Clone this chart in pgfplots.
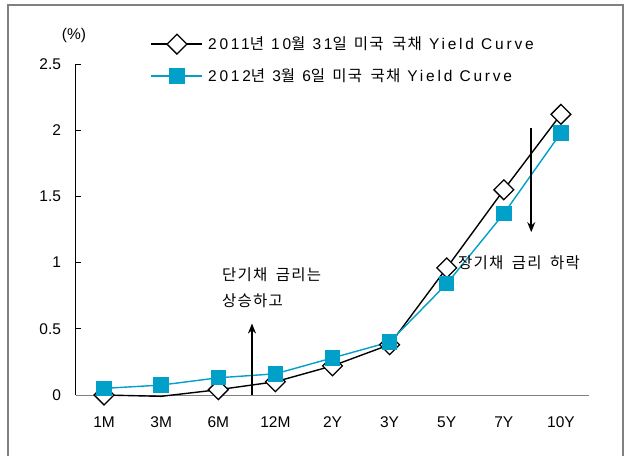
\documentclass[border=0pt]{standalone}
\usepackage{fontspec}
\setmainfont{Liberation Sans}
\newfontfamily\kr[WordSpace=1.8,LetterSpace=8]{Noto Sans CJK KR}
\newfontfamily\leg[LetterSpace=18]{Liberation Sans}
\usepackage{pgfplots}
\pgfplotsset{compat=1.18}
\usetikzlibrary{arrows.meta}
\definecolor{cblue}{RGB}{0,160,200}
\definecolor{fgray}{RGB}{128,128,128}
\pgfplotstableread{
x y
0 0.00
1 -0.01
2 0.04
3 0.10
4 0.22
5 0.38
6 0.96
7 1.55
8 2.12
}\oct
\pgfplotstableread{
x y
0 0.05
1 0.075
2 0.13
3 0.16
4 0.28
5 0.40
6 0.84
7 1.37
8 1.98
}\mar
\newcommand{\fs}{\fontsize{15.5bp}{18bp}\selectfont}
\newcommand{\fk}{\kr\fontsize{15.5bp}{18bp}\selectfont}
\begin{document}
\begin{tikzpicture}
\useasboundingbox (0bp,0bp) rectangle (626bp,456bp);
\begin{scope}
\clip (0bp,0bp) rectangle (626bp,456bp);
\draw[fgray, line width=2.2bp] (8bp,-20bp) rectangle (623bp,451bp);
\end{scope}
\begin{axis}[
  at={(75.5bp,61bp)}, anchor=south west,
  scale only axis, width=514bp, height=331bp,
  xmin=-0.5, xmax=8.5, ymin=0, ymax=2.5,
  clip=false,
  axis x line*=bottom, axis y line*=left,
  x axis line style={draw=fgray, line width=1bp},
  y axis line style={draw=black, line width=0.8bp},
  xtick={0,...,8},
  xticklabels={1M,3M,6M,12M,2Y,3Y,5Y,7Y,10Y},
  xtick style={draw=none},
  ytick={0,0.5,1,1.5,2,2.5},
  ytick style={draw=black, line width=0.8bp},
  tick align=inside, major tick length=5bp,
  /pgf/number format/assume math mode=true,
  ticklabel style={font=\fs},
  yticklabel style={xshift=-11bp},
  xticklabel style={yshift=-18bp},
  legend style={draw=none, fill=none, inner sep=0pt,
    at={(axis description cs:0.146,1.0157)}, anchor=west,
    font=\leg\fontsize{15.5bp}{18bp}\selectfont,
    row sep=15bp, column sep=5bp,
    nodes={inner sep=0pt, anchor=west}},
  legend cell align=left,
  legend image code/.code={\draw[#1, mark=none] (0bp,0bp) -- (51bp,0bp); \draw[#1, mark indices={1}] plot coordinates {(25.5bp,0bp)};},
]
\addplot[black, line width=1.4bp, mark=square*, mark options={rotate=45, fill=white, line width=1.3bp}, mark size=7bp,
  mark indices={1,3,4,5,6,7,8,9}] table[x=x,y=y] {\oct};
\addlegendentry{2011{\fk 년} 10{\fk 월} 31{\fk 일} {\fk 미국 국채} Yield Curve}
\addplot[cblue, line width=1.4bp, mark=square*, mark options={fill=cblue, draw=cblue}, mark size=7bp] table[x=x,y=y] {\mar};
\addlegendentry{2012{\fk 년} 3{\fk 월} 6{\fk 일} {\fk 미국 국채} Yield Curve}
\draw[line width=1.5bp, -{Stealth[length=10bp,width=8bp]}] (axis cs:2.59,0) -- (axis cs:2.59,0.54);
\draw[line width=1.5bp, -{Stealth[length=10bp,width=8bp]}] (axis cs:7.48,2.02) -- (axis cs:7.48,1.23);
\node[anchor=west, inner sep=0pt, font=\fk] at (axis cs:2.066,0.906) {단기채 금리는};
\node[anchor=west, inner sep=0pt, font=\fk] at (axis cs:2.066,0.71) {상승하고};
\node[anchor=west, inner sep=0pt, font=\fk] at (axis cs:6.197,0.997) {장기채 금리 하락};
\end{axis}
\node[font=\fs] at (74bp,421bp) {(\%)};
\end{tikzpicture}
\end{document}
